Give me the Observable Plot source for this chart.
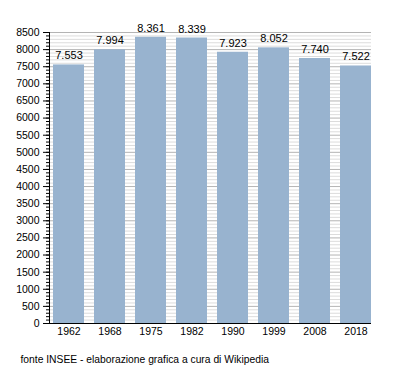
<!DOCTYPE html>
<html>
<head>
<meta charset="utf-8">
<script src="https://cdn.jsdelivr.net/npm/d3@7"></script>
<script src="https://cdn.jsdelivr.net/npm/@observablehq/plot@0.6"></script>
<style>
  html, body { margin: 0; padding: 0; background: #fff; }
  svg { display: block; }
</style>
</head>
<body>
<div id="chart"></div>
<script>
const years = ["1962", "1968", "1975", "1982", "1990", "1999", "2008", "2018"];
const population = [7553, 7994, 8361, 8339, 7923, 8052, 7740, 7522];
const yMajorTicks = d3.range(0, 8501, 500);
const yMinorTicks = d3.range(0, 8501, 100);
const captionText = "fonte INSEE - elaborazione grafica a cura di Wikipedia";

const data = years.map((y, i) => ({year: y, value: population[i]}));
const itFmt = d3.formatLocale({decimal: ",", thousands: ".", grouping: [3], currency: ["", ""]}).format(",");

const chart = Plot.plot({
  width: 400,
  height: 373,
  marginLeft: 49,
  marginRight: 29,
  marginTop: 32,
  marginBottom: 50,
  style: {fontFamily: "Liberation Sans, Arial, sans-serif", fontSize: "10px", color: "#000", background: "#fff"},
  x: {domain: years, padding: 0.25, paddingOuter: 0.025, align: 1, label: null},
  y: {domain: [0, 8500], label: null},
  marks: [
    Plot.gridY(yMinorTicks.filter(d => d % 500 !== 0), {stroke: "#dcdcdc", strokeOpacity: 1}),
    Plot.gridY(yMajorTicks, {stroke: "#b4b4b4", strokeOpacity: 1}),
    Plot.barY(data, {x: "year", y: "value", fill: "#98b3cf"}),
    Plot.text(data, {x: "year", y: "value", text: d => itFmt(d.value), lineAnchor: "bottom", dy: -5.5, fontSize: 11, fill: "#000"}),
    Plot.axisY(yMinorTicks, {tickSize: 3, text: null, stroke: "#000"}),
    Plot.axisY(yMajorTicks, {tickSize: 6, tickPadding: 4, tickFormat: d => String(d), fontSize: 10.5, stroke: "#000"}),
    Plot.axisX({tickSize: 0, tickPadding: 4, fontSize: 10.5}),
    Plot.ruleY([0], {stroke: "#000"}),
    Plot.frame({anchor: "left", stroke: "#000"}),
    Plot.text([captionText], {frameAnchor: "bottom-left", textAnchor: "start", dx: -29, dy: 39, fontSize: 10.3, fill: "#000"})
  ]
});
document.getElementById("chart").appendChild(chart);
</script>
</body>
</html>
